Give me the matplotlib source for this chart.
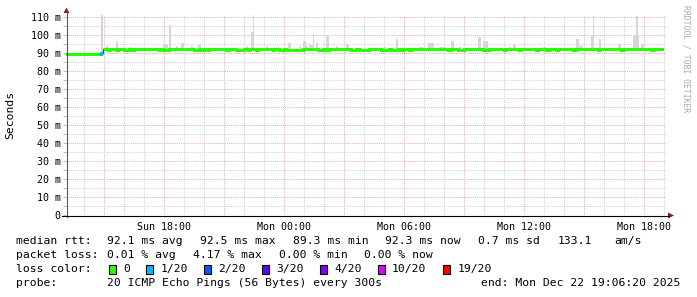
import numpy as np
import matplotlib
matplotlib.use('Agg')
import matplotlib.pyplot as plt
from matplotlib.patches import Rectangle, Polygon
from matplotlib.lines import Line2D

# x axis is hours counted from Sun 00:00, samples every 5 minutes
start = 13 + 6/60 + 20/3600
step = 5/60

# median rtt per sample (ms)
median = [
    89.5, 89.5, 89.5, 89.5, 89.3, 89.3, 89.5, 89.3, 89.5, 89.5, 89.5, 89.5, 89.5, 89.5, 89.5, 89.5, 89.5, 89.5, 89.5, 89.5,
    89.6, 90.2, 92.3, 92.3, 92.3, 91.4, 92.3, 92.3, 92.3, 92.3, 91.4, 92.3, 92.3, 92.3, 92.3, 91.4, 91.4, 91.4, 92.3, 92.3,
    91.4, 92.3, 92.3, 92.3, 92.3, 92.3, 92.3, 92.3, 92.3, 92.3, 92.3, 92.3, 92.3, 92.3, 92.3, 92.3, 91.4, 92.3, 91.4, 91.4,
    91.4, 91.4, 92.3, 92.3, 92.3, 92.3, 92.3, 92.3, 92.3, 92.3, 92.3, 92.3, 92.3, 92.3, 92.3, 92.3, 92.3, 91.4, 91.4, 91.4,
    92.3, 91.4, 91.4, 92.3, 92.3, 91.4, 92.3, 92.3, 92.3, 92.3, 92.3, 92.3, 92.3, 92.3, 92.3, 92.3, 91.4, 91.4, 92.3, 92.3,
    92.3, 92.3, 91.4, 91.4, 91.4, 91.4, 91.4, 92.3, 92.3, 91.4, 92.3, 92.3, 92.3, 92.3, 91.4, 92.3, 92.3, 92.3, 92.3, 92.3,
    92.3, 92.3, 92.3, 92.3, 91.4, 92.3, 92.3, 92.3, 91.4, 91.4, 91.4, 92.3, 91.4, 91.4, 91.4, 91.4, 91.4, 91.4, 91.4, 91.4,
    91.4, 91.4, 92.3, 92.3, 92.3, 92.3, 92.3, 92.3, 92.3, 92.3, 92.3, 91.4, 91.4, 91.4, 92.3, 92.3, 91.4, 91.4, 92.3, 92.3,
    92.3, 92.3, 92.3, 92.3, 92.3, 92.3, 92.3, 92.3, 92.3, 92.3, 92.3, 91.4, 91.4, 91.4, 92.3, 92.3, 91.4, 91.4, 91.4, 91.4,
    91.4, 91.4, 92.3, 92.3, 92.3, 92.3, 92.3, 92.3, 92.3, 91.4, 91.4, 91.4, 91.4, 91.4, 92.3, 91.4, 91.4, 91.4, 91.4, 92.3,
    92.3, 91.4, 92.3, 92.3, 92.3, 92.3, 91.4, 92.3, 92.3, 92.3, 92.3, 92.3, 92.3, 92.3, 92.3, 92.3, 92.3, 92.3, 92.3, 92.3,
    92.3, 92.3, 92.3, 92.3, 92.3, 92.3, 92.3, 92.3, 92.3, 91.4, 91.4, 92.3, 92.3, 92.3, 92.3, 91.4, 91.4, 91.4, 91.4, 92.3,
    92.3, 92.3, 92.3, 92.3, 92.3, 92.3, 92.3, 92.3, 92.3, 92.3, 91.4, 91.4, 91.4, 91.4, 92.3, 92.3, 92.3, 92.3, 92.3, 92.3,
    92.3, 92.3, 92.3, 91.4, 92.3, 92.3, 92.3, 92.3, 92.3, 92.3, 92.3, 92.3, 91.4, 92.3, 92.3, 92.3, 92.3, 92.3, 92.3, 92.3,
    92.3, 92.3, 91.4, 92.3, 92.3, 92.3, 92.3, 92.3, 91.4, 91.4, 92.3, 92.3, 92.3, 92.3, 91.4, 92.3, 92.3, 92.3, 92.3, 92.3,
    92.3, 92.3, 92.3, 92.3, 91.4, 91.4, 92.3, 92.3, 92.3, 92.3, 92.3, 92.3, 92.3, 92.3, 92.3, 92.3, 92.3, 92.3, 92.3, 91.4,
    92.3, 92.3, 92.3, 92.3, 92.3, 92.3, 92.3, 92.3, 92.3, 92.3, 92.3, 92.3, 92.3, 91.4, 92.3, 92.3, 92.3, 92.3, 92.3, 92.3,
    92.3, 92.3, 92.3, 92.3, 92.3, 92.3, 92.3, 92.3, 92.3, 92.3, 92.3, 91.4, 92.3, 92.3, 92.3, 92.3, 92.3, 92.3,
]

# samples with lost pings (count out of 20)
loss_idx = [20, 21]
loss_cnt = [1, 1]

# slowest ping of a sample, where it sticks out of the median line (ms)
smoke_idx = [21, 24, 30, 38, 58, 59, 60, 62, 66, 69, 70, 75, 79, 80, 108, 111, 112, 120, 127, 133,
             134, 140, 142, 143, 144, 146, 147, 148, 150, 156, 157, 162, 168, 169, 191, 196, 198, 212, 213, 217,
             218, 219, 220, 224, 225, 226, 227, 231, 232, 236, 247, 248, 250, 251, 252, 266, 268, 269, 286, 287,
             306, 307, 308, 309, 315, 316, 320, 331, 332, 340, 341, 342, 343, 345, 346]
smoke_max = [111.2, 94.0, 96.8, 93.5, 95.0, 95.0, 95.0, 105.5, 94.0, 95.7, 95.7, 94.0, 94.4, 94.4, 94.0, 101.7, 111.0, 94.0, 94.0, 95.7,
             95.7, 94.0, 96.8, 96.8, 94.0, 94.2, 94.2, 100.5, 95.4, 99.6, 99.6, 94.0, 95.0, 95.0, 93.5, 93.5, 97.8, 93.5, 93.5, 95.3,
             95.7, 95.7, 95.3, 93.5, 93.5, 93.5, 93.5, 96.8, 96.8, 93.5, 98.8, 98.8, 96.8, 96.8, 96.8, 93.5, 94.7, 94.7, 93.3, 93.3,
             97.8, 97.8, 94.0, 94.0, 100.2, 110.7, 97.8, 95.0, 95.0, 99.7, 99.7, 110.7, 99.7, 95.0, 95.0]

loss_levels = [0, 1, 2, 3, 4, 10, 19]
loss_labels = ['0', '1/20', '2/20', '3/20', '4/20', '10/20', '19/20']
loss_colors = ['#26ff00', '#00b8ff', '#0059ff', '#5e00ff', '#7e00ff', '#dd00ff', '#ff0000']

yticks = [0, 10, 20, 30, 40, 50, 60, 70, 80, 90, 100, 110]
ylabels = ['0', '10 m', '20 m', '30 m', '40 m', '50 m', '60 m', '70 m', '80 m', '90 m', '100 m', '110 m']
xlabel_pos = [18, 24, 30, 36, 42]
xlabels = ['Sun 18:00', 'Mon 00:00', 'Mon 06:00', 'Mon 12:00', 'Mon 18:00']

plt.rcParams['font.family'] = 'DejaVu Sans Mono'

W, H = 697, 297
fig = plt.figure(figsize=(W / 100, H / 100), dpi=100)
fig.patch.set_facecolor('white')
ax = fig.add_axes([66 / W, (H - 215) / H, 600 / W, 200 / H])

med = np.array(median)
n = len(med)
t = start + step * np.arange(n)
loss = np.zeros(n, dtype=int)
loss[loss_idx] = loss_cnt

# smoke
si = np.array(smoke_idx)
low = med[si] - 0.5
ax.bar(t[si], np.array(smoke_max) - low, bottom=low, width=step, align='edge',
       color='#d6d6d6', linewidth=0, zorder=2)

# thin median line underneath, then loss coloured line
te = np.append(t, t[-1] + step)
ax.step(te, np.append(med, med[-1]), where='post', color='#202020', lw=0.8, zorder=3)
for lvl, col in zip(loss_levels, loss_colors):
    y = np.where(loss == lvl, med, np.nan)
    if np.all(np.isnan(y)):
        continue
    ax.step(te, np.append(y, y[-1]), where='post', color=col, lw=2.2,
            solid_capstyle='butt', solid_joinstyle='miter', zorder=4)

ax.set_xlim(start, start + 30)
ax.set_ylim(0, 111.1)

major_x = np.arange(15, 43, 3)
ax.set_xticks(major_x, [xlabels[xlabel_pos.index(v)] if v in xlabel_pos else '' for v in major_x])
ax.set_xticks(np.arange(14, 44, 1), minor=True)
ax.set_yticks(yticks, ylabels)
ax.set_yticks(np.arange(5, 111, 10), minor=True)

ax.grid(which='major', color='#e2b4b4', lw=0.75, ls=(0, (1, 1)))
ax.grid(which='minor', color='#d2d2d2', lw=0.75, ls=(0, (1, 1)))
ax.set_axisbelow(True)
ax.tick_params(axis='y', which='both', length=2.2, width=0.7, color='#bbbbbb', pad=1.5, labelsize=7.2)
ax.tick_params(axis='x', which='both', length=0, pad=5, labelsize=7.2)
for s in ax.spines.values():
    s.set_visible(False)


def px(x, y):
    return (x / W, 1 - y / H)


# axis lines with arrow heads
fig.add_artist(Line2D([px(66.5, 217)[0], px(66.5, 10)[0]], [px(66.5, 217)[1], px(66.5, 10)[1]],
                      transform=fig.transFigure, color='#555555', lw=0.8))
fig.add_artist(Line2D([px(62, 215.5)[0], px(669, 215.5)[0]], [px(62, 215.5)[1], px(669, 215.5)[1]],
                      transform=fig.transFigure, color='#000000', lw=0.8))
fig.add_artist(Polygon([px(63.5, 13), px(69.5, 13), px(66.5, 7.5)], closed=True,
                       transform=fig.transFigure, color='#8b1a1a', lw=0))
fig.add_artist(Polygon([px(668, 212.5), px(668, 218.5), px(674, 215.5)], closed=True,
                       transform=fig.transFigure, color='#8b1a1a', lw=0))

fig.text(*px(10, 114.5), 'Seconds', rotation=90, ha='center', va='center', fontsize=8.2)
fig.text(*px(686, 59), 'RRDTOOL / TOBI OETIKER', rotation=270, ha='center', va='center',
         fontsize=5.8, color='#aaaaaa')

# legend block
fs = 8.2
rows = [
    (241.3, [(16, 'median rtt:'), (107.3, '92.1 ms avg'), (200, '92.5 ms max'), (292.7, '89.3 ms min'),
             (385, '92.3 ms now'), (478, '0.7 ms sd'), (558, '133.1'), (614, 'am/s')]),
    (255.3, [(16, 'packet loss:'), (107.3, '0.01 % avg'), (192.7, '4.17 % max'), (278.7, '0.00 % min'),
             (364.5, '0.00 % now')]),
    (269, [(16, 'loss color:')]),
    (283.5, [(16, 'probe:'), (107.3, '20 ICMP Echo Pings (56 Bytes) every 300s')]),
]
for yy, items in rows:
    for xx, s in items:
        fig.text(*px(xx, yy), s, ha='left', va='center', fontsize=fs)
fig.text(*px(680, 283.5), 'end: Mon Dec 22 19:06:20 2025', ha='right', va='center', fontsize=fs)

box_x = [108.5, 146, 203.5, 261.5, 319.5, 377.5, 443]
for bx, lab, col in zip(box_x, loss_labels, loss_colors):
    fig.add_artist(Rectangle(px(bx, 273.5), 7 / W, 9 / H, transform=fig.transFigure,
                             facecolor=col, edgecolor='black', lw=0.8))
    fig.text(*px(bx + 14.5, 269), lab, ha='left', va='center', fontsize=fs)

fig.savefig('out.png', dpi=100, facecolor='white')
